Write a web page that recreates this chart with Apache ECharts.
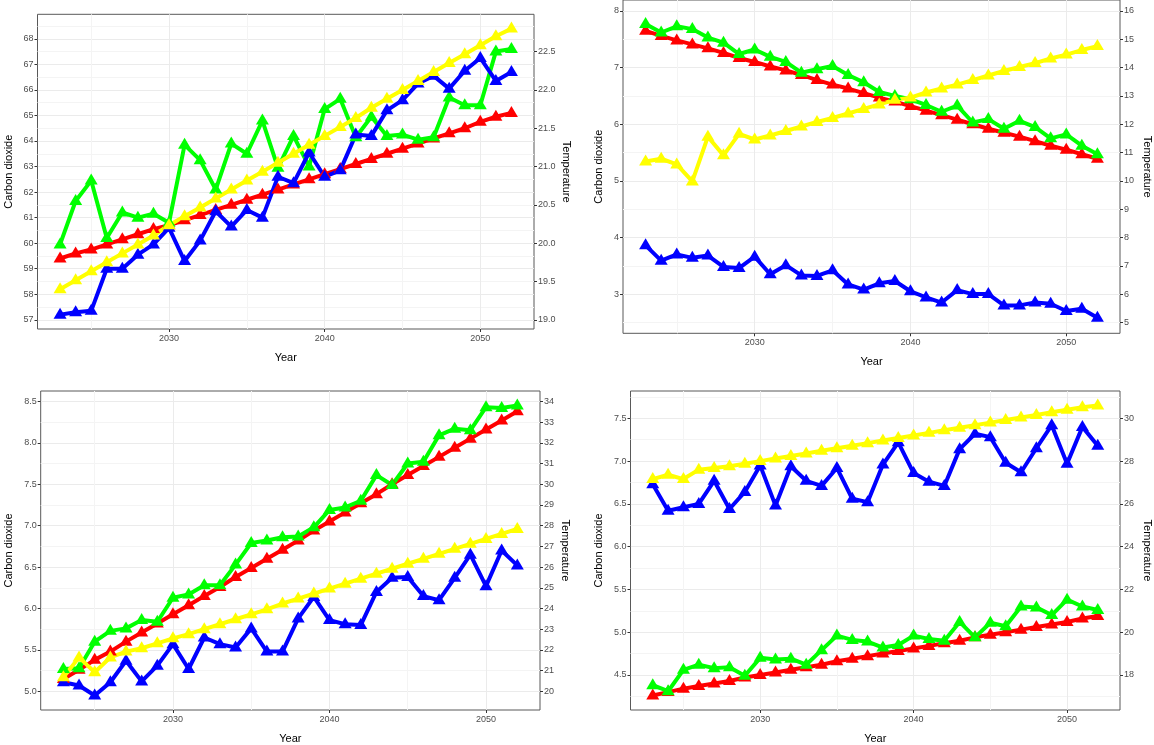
<!DOCTYPE html>
<html>
<head>
<meta charset="utf-8">
<script src="https://cdn.jsdelivr.net/npm/echarts@6/dist/echarts.min.js"></script>
<style>
  html, body { margin: 0; padding: 0; background: #fff; overflow: hidden; }
  #chart { width: 1154px; height: 745px; }
</style>
</head>
<body>
<div id="chart"></div>
<script>
// Years shared by all four panels
const years = [2023, 2024, 2025, 2026, 2027, 2028, 2029, 2030, 2031, 2032,
               2033, 2034, 2035, 2036, 2037, 2038, 2039, 2040, 2041, 2042,
               2043, 2044, 2045, 2046, 2047, 2048, 2049, 2050, 2051, 2052];
const yearTicks = [2030, 2040, 2050];
const yearMinor = [2025, 2035, 2045];

// Panel 1 (top left)
const p1Red    = [59.4, 59.6, 59.75, 59.95, 60.15, 60.35, 60.55, 60.7, 60.9, 61.1, 61.3, 61.5, 61.7, 61.9, 62.1, 62.3, 62.5, 62.7, 62.9, 63.1, 63.3, 63.5, 63.7, 63.9, 64.1, 64.3, 64.5, 64.75, 64.95, 65.1];
const p1Green  = [59.95, 61.65, 62.45, 60.2, 61.2, 61.0, 61.15, 60.8, 63.85, 63.25, 62.1, 63.9, 63.5, 64.8, 62.95, 64.2, 63.0, 65.25, 65.65, 64.15, 64.95, 64.2, 64.25, 64.05, 64.15, 65.7, 65.4, 65.4, 67.5, 67.6];
const p1Blue   = [57.2, 57.3, 57.35, 59.0, 59.0, 59.55, 59.95, 60.6, 59.3, 60.1, 61.25, 60.65, 61.3, 61.0, 62.6, 62.35, 63.55, 62.6, 62.85, 64.25, 64.2, 65.2, 65.6, 66.25, 66.55, 66.05, 66.75, 67.25, 66.35, 66.7];
const p1Yellow = [58.2, 58.55, 58.9, 59.25, 59.6, 59.95, 60.3, 60.7, 61.05, 61.4, 61.75, 62.1, 62.45, 62.8, 63.15, 63.5, 63.85, 64.2, 64.55, 64.9, 65.3, 65.65, 66.0, 66.35, 66.7, 67.05, 67.4, 67.75, 68.1, 68.4];
const p1LeftTicks  = [57, 58, 59, 60, 61, 62, 63, 64, 65, 66, 67, 68];
const p1LeftMinor  = [57.5, 58.5, 59.5, 60.5, 61.5, 62.5, 63.5, 64.5, 65.5, 66.5, 67.5, 68.5];
const p1RightTicks = [19.0, 19.5, 20.0, 20.5, 21.0, 21.5, 22.0, 22.5];

// Panel 2 (top right)
const p2Red    = [7.65, 7.56, 7.48, 7.41, 7.34, 7.26, 7.17, 7.1, 7.02, 6.95, 6.87, 6.78, 6.7, 6.63, 6.55, 6.47, 6.4, 6.32, 6.24, 6.16, 6.08, 6.0, 5.92, 5.85, 5.78, 5.7, 5.62, 5.55, 5.47, 5.39];
const p2Green  = [7.77, 7.62, 7.73, 7.68, 7.53, 7.44, 7.24, 7.32, 7.19, 7.1, 6.91, 6.97, 7.03, 6.87, 6.74, 6.57, 6.5, 6.44, 6.34, 6.22, 6.33, 6.03, 6.09, 5.92, 6.06, 5.95, 5.75, 5.82, 5.62, 5.47];
const p2Blue   = [3.86, 3.59, 3.7, 3.64, 3.68, 3.48, 3.46, 3.66, 3.35, 3.51, 3.33, 3.32, 3.42, 3.17, 3.08, 3.19, 3.23, 3.05, 2.94, 2.85, 3.07, 3.0, 3.0, 2.8, 2.8, 2.85, 2.83, 2.7, 2.74, 2.58];
const p2Yellow = [5.34, 5.39, 5.29, 4.99, 5.78, 5.45, 5.83, 5.73, 5.8, 5.88, 5.96, 6.04, 6.11, 6.19, 6.27, 6.35, 6.43, 6.47, 6.56, 6.63, 6.7, 6.78, 6.86, 6.94, 7.01, 7.08, 7.16, 7.23, 7.31, 7.38];
const p2LeftTicks  = [3, 4, 5, 6, 7, 8];
const p2LeftMinor  = [2.5, 3.5, 4.5, 5.5, 6.5, 7.5];
const p2RightTicks = [5, 6, 7, 8, 9, 10, 11, 12, 13, 14, 15, 16];
const p2Limits     = [2.307, 8.194];

// Panel 3 (bottom left)
const p3Red    = [5.15, 5.26, 5.38, 5.48, 5.6, 5.71, 5.82, 5.93, 6.04, 6.15, 6.26, 6.38, 6.49, 6.6, 6.71, 6.82, 6.94, 7.05, 7.16, 7.27, 7.38, 7.5, 7.61, 7.72, 7.83, 7.94, 8.05, 8.16, 8.27, 8.38];
const p3Green  = [5.27, 5.28, 5.6, 5.73, 5.76, 5.86, 5.84, 6.13, 6.17, 6.28, 6.28, 6.53, 6.79, 6.82, 6.86, 6.87, 6.98, 7.19, 7.22, 7.3, 7.61, 7.49, 7.75, 7.77, 8.09, 8.17, 8.15, 8.43, 8.42, 8.45];
const p3Blue   = [5.11, 5.07, 4.95, 5.11, 5.37, 5.12, 5.31, 5.57, 5.27, 5.65, 5.57, 5.53, 5.76, 5.48, 5.48, 5.88, 6.14, 5.86, 5.81, 5.8, 6.2, 6.37, 6.38, 6.15, 6.1, 6.37, 6.65, 6.27, 6.7, 6.52];
const p3Yellow = [5.17, 5.41, 5.23, 5.41, 5.48, 5.52, 5.58, 5.64, 5.69, 5.75, 5.81, 5.87, 5.93, 5.99, 6.06, 6.12, 6.18, 6.24, 6.3, 6.36, 6.42, 6.48, 6.54, 6.6, 6.66, 6.72, 6.78, 6.84, 6.9, 6.96];
const p3LeftTicks  = [5.0, 5.5, 6.0, 6.5, 7.0, 7.5, 8.0, 8.5];
const p3LeftMinor  = [5.25, 5.75, 6.25, 6.75, 7.25, 7.75, 8.25];
const p3RightTicks = [20, 21, 22, 23, 24, 25, 26, 27, 28, 29, 30, 31, 32, 33, 34];

// Panel 4 (bottom right)
const p4Red    = [4.26, 4.3, 4.34, 4.37, 4.4, 4.43, 4.47, 4.5, 4.53, 4.56, 4.59, 4.62, 4.66, 4.69, 4.72, 4.75, 4.78, 4.81, 4.84, 4.87, 4.9, 4.94, 4.97, 5.0, 5.03, 5.06, 5.09, 5.12, 5.16, 5.19];
const p4Green  = [4.38, 4.31, 4.56, 4.62, 4.58, 4.59, 4.49, 4.7, 4.68, 4.69, 4.62, 4.79, 4.96, 4.91, 4.89, 4.82, 4.85, 4.96, 4.92, 4.9, 5.12, 4.94, 5.11, 5.07, 5.3, 5.29, 5.2, 5.38, 5.3, 5.26];
const p4Blue   = [6.73, 6.42, 6.46, 6.5, 6.77, 6.44, 6.64, 6.95, 6.48, 6.94, 6.77, 6.71, 6.92, 6.56, 6.52, 6.96, 7.22, 6.86, 6.76, 6.71, 7.14, 7.32, 7.28, 6.98, 6.87, 7.15, 7.42, 6.97, 7.4, 7.18];
const p4Yellow = [6.79, 6.84, 6.79, 6.9, 6.92, 6.94, 6.97, 7.0, 7.03, 7.06, 7.09, 7.12, 7.15, 7.18, 7.21, 7.24, 7.27, 7.3, 7.33, 7.36, 7.39, 7.42, 7.45, 7.48, 7.51, 7.54, 7.57, 7.6, 7.63, 7.65];
const p4LeftTicks  = [4.5, 5.0, 5.5, 6.0, 6.5, 7.0, 7.5];
const p4LeftMinor  = [4.25, 4.75, 5.25, 5.75, 6.25, 6.75, 7.25, 7.75];
const p4RightTicks = [18, 20, 22, 24, 26, 28, 30];

const panels = [
  { box: { left: 37.5, top: 14.3, width: 496.5, height: 314.7 },
    series: [p1Red, p1Green, p1Blue, p1Yellow],
    left: p1LeftTicks, leftMinor: p1LeftMinor, leftDec: 0,
    right: p1RightTicks, rightDec: 1, factor: 1 / 3,
    leftGap: 23.5, rightGap: 27 },
  { box: { left: 623, top: -1, width: 507.5, height: 334.3 },
    series: [p2Red, p2Green, p2Blue, p2Yellow], limits: p2Limits,
    left: p2LeftTicks, leftMinor: p2LeftMinor, leftDec: 0,
    right: p2RightTicks, rightDec: 0, factor: 2,
    leftGap: 18.5, rightGap: 22 },
  { box: { left: 40.7, top: 391, width: 499.3, height: 325.7 },
    series: [p3Red, p3Green, p3Blue, p3Yellow],
    left: p3LeftTicks, leftMinor: p3LeftMinor, leftDec: 1,
    right: p3RightTicks, rightDec: 0, factor: 4,
    leftGap: 26, rightGap: 20 },
  { box: { left: 630.5, top: 391, width: 499.5, height: 325.7 },
    series: [p4Red, p4Green, p4Blue, p4Yellow],
    left: p4LeftTicks, leftMinor: p4LeftMinor, leftDec: 1,
    right: p4RightTicks, rightDec: 0, factor: 4,
    leftGap: 26, rightGap: 22 }
];

const colors = ['#ff0000', '#00ff00', '#0000ff', '#ffff00'];
const FONT = 'Liberation Sans, Arial, sans-serif';
const tickText = { color: '#4d4d4d', fontSize: 9, fontFamily: FONT };
const titleText = { color: '#000', fontSize: 11, fontFamily: FONT };
const majorGrid = { color: '#ebebeb', width: 1 };
const minorGrid = { color: '#f4f4f4', width: 1 };
const tickLine = { color: '#333', width: 1 };

// ggplot-style 5% padding on each side of the data range
function padded(lo, hi) {
  const pad = (hi - lo) * 0.05;
  return [lo - pad, hi + pad];
}
const xRange = padded(years[0], years[years.length - 1]);

const grid = [], xAxis = [], yAxis = [], series = [];

panels.forEach((p, i) => {
  const all = [].concat(...p.series);
  const yRange = p.limits || padded(Math.min(...all), Math.max(...all));

  grid.push(Object.assign({ show: true, borderColor: '#595959', borderWidth: 1,
    backgroundColor: 'transparent', containLabel: false }, p.box));

  // main year axis
  xAxis.push({
    type: 'value', gridIndex: i, min: xRange[0], max: xRange[1],
    name: 'Year', nameLocation: 'middle', nameGap: 23, nameTextStyle: titleText,
    axisLine: { show: false },
    axisTick: { show: true, length: 3, lineStyle: tickLine, customValues: yearTicks },
    axisLabel: Object.assign({ margin: 5, customValues: yearTicks, formatter: v => String(v) }, tickText),
    splitLine: { show: true, lineStyle: majorGrid }
  });
  // minor year grid
  xAxis.push({
    type: 'value', gridIndex: i, min: xRange[0], max: xRange[1],
    axisLine: { show: false },
    axisTick: { show: false, customValues: yearMinor },
    axisLabel: { show: false },
    splitLine: { show: true, lineStyle: minorGrid }
  });

  // left axis: carbon dioxide
  yAxis.push({
    type: 'value', gridIndex: i, position: 'left', min: yRange[0], max: yRange[1],
    name: 'Carbon dioxide', nameLocation: 'middle', nameGap: p.leftGap, nameTextStyle: titleText,
    axisLine: { show: false },
    axisTick: { show: true, length: 3, lineStyle: tickLine, customValues: p.left },
    axisLabel: Object.assign({ margin: 4, customValues: p.left, formatter: v => v.toFixed(p.leftDec) }, tickText),
    splitLine: { show: true, lineStyle: majorGrid }
  });
  // right axis: temperature, a linear rescale of the left axis
  yAxis.push({
    type: 'value', gridIndex: i, position: 'right',
    min: yRange[0] * p.factor, max: yRange[1] * p.factor,
    name: 'Temperature', nameLocation: 'middle', nameRotate: -90, nameGap: p.rightGap, nameTextStyle: titleText,
    axisLine: { show: false },
    axisTick: { show: true, length: 3, lineStyle: tickLine, customValues: p.right },
    axisLabel: Object.assign({ margin: 4, customValues: p.right, formatter: v => v.toFixed(p.rightDec) }, tickText),
    splitLine: { show: false }
  });
  // minor carbon dioxide grid
  yAxis.push({
    type: 'value', gridIndex: i, position: 'left', min: yRange[0], max: yRange[1],
    axisLine: { show: false },
    axisTick: { show: false, customValues: p.leftMinor },
    axisLabel: { show: false },
    splitLine: { show: true, lineStyle: minorGrid }
  });

  p.series.forEach((vals, k) => {
    series.push({
      type: 'line', xAxisIndex: i * 2, yAxisIndex: i * 3,
      data: years.map((yr, j) => [yr, vals[j]]),
      symbol: 'triangle', symbolSize: [13, 11], symbolOffset: [0, -1.5],
      showSymbol: true, showAllSymbol: true,
      itemStyle: { color: colors[k] },
      lineStyle: { color: colors[k], width: 4, join: 'round' },
      emphasis: { disabled: true }, silent: true, z: 3
    });
  });
});

const chart = echarts.init(document.getElementById('chart'), null, { renderer: 'canvas' });
chart.setOption({ animation: false, backgroundColor: '#fff', grid, xAxis, yAxis, series });
</script>
</body>
</html>
